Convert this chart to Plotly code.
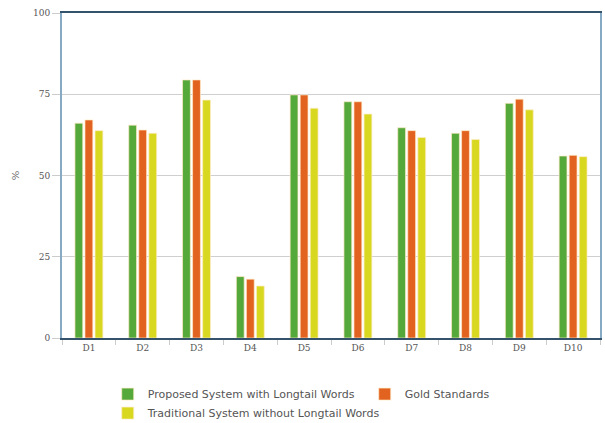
import plotly.graph_objects as go

categories = ["D1", "D2", "D3", "D4", "D5", "D6", "D7", "D8", "D9", "D10"]
proposed = [66.1, 65.5, 79.4, 18.9, 74.8, 72.7, 64.7, 63.0, 72.2, 56.0]
gold = [67.1, 64.0, 79.4, 18.1, 74.8, 72.7, 63.8, 63.8, 73.5, 56.2]
traditional = [63.8, 63.0, 73.2, 16.0, 70.7, 68.9, 61.7, 61.1, 70.2, 55.8]
y_ticks = [0, 25, 50, 75, 100]

series = [
    ("Proposed System with Longtail Words", proposed, "#55a83a"),
    ("Gold Standards", gold, "#e2621f"),
    ("Traditional System without Longtail Words", traditional, "#d9d821"),
]

fig = go.Figure()
for name, vals, color in series:
    fig.add_trace(go.Bar(
        x=categories, y=vals, name=name,
        marker=dict(color=color, line=dict(color="rgba(255,235,200,0.7)", width=1)),
    ))

fig.update_layout(
    width=605, height=423,
    margin=dict(l=62, r=5, t=13, b=85, autoexpand=False),
    paper_bgcolor="white", plot_bgcolor="white",
    barmode="group", bargap=0.44, bargroupgap=0.22,
    font=dict(family="DejaVu Sans", color="#444"),
    showlegend=True,
    legend=dict(
        orientation="h", x=0.085, xanchor="left", y=-0.128, yanchor="top",
        font=dict(family="DejaVu Sans", size=11, color="#555"),
        itemwidth=30, tracegroupgap=0, traceorder="normal",
        entrywidth=212, entrywidthmode="pixels",
    ),
    xaxis=dict(
        type="category", tickson="boundaries", ticks="outside", ticklen=5,
        tickcolor="#cccccc", showline=True, linecolor="#34526c", linewidth=2,
        mirror=True, showgrid=False,
        tickfont=dict(family="DejaVu Serif", size=9, color="#555"),
    ),
    yaxis=dict(
        range=[0, 100], tickvals=y_ticks, ticktext=[str(v) for v in y_ticks],
        ticks="outside", ticklen=8, tickcolor="#cccccc",
        showgrid=True, gridcolor="#cfcfcf", gridwidth=1, zeroline=False,
        showline=True, linecolor="#86aac3", linewidth=2, mirror=True,
        tickfont=dict(family="DejaVu Serif", size=9, color="#555"),
        title=dict(text="%", font=dict(family="DejaVu Serif", size=10, color="#555"), standoff=12),
    ),
)

fig.write_html("out.html")
